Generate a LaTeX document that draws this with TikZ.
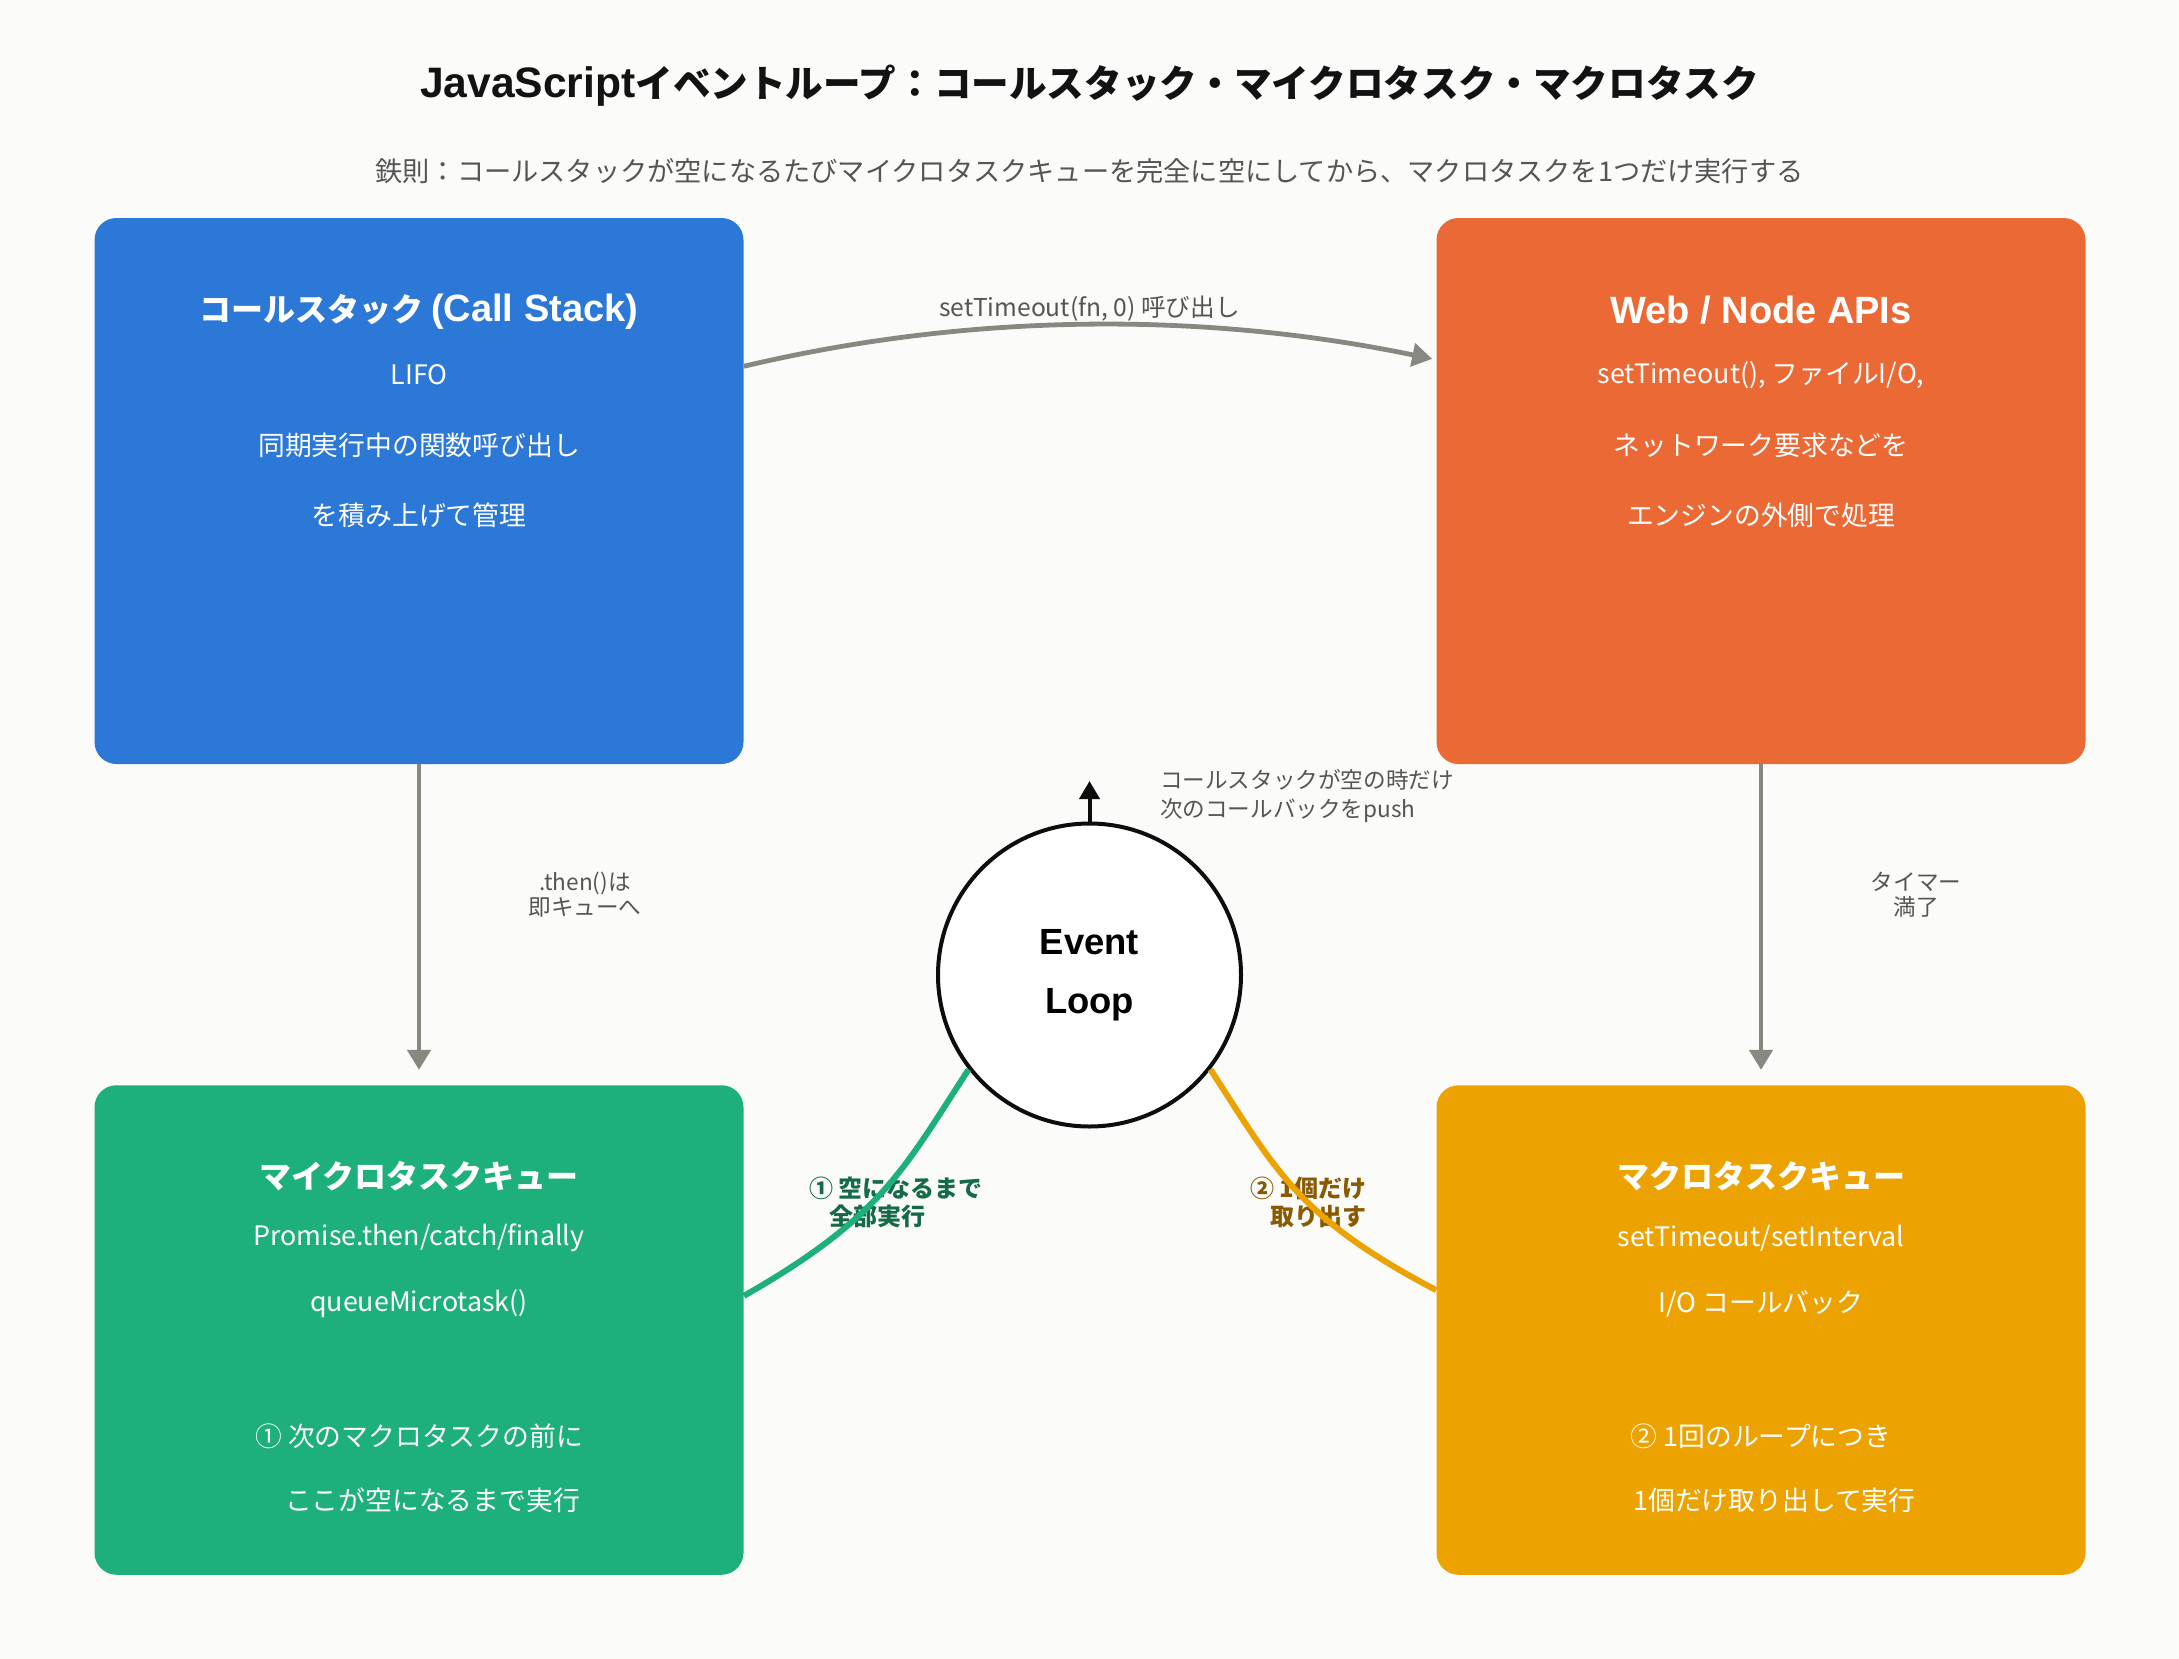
\documentclass[tikz,border=0pt]{standalone}
\usepackage{fontspec}
\setmainfont{Noto Sans CJK JP}
\newfontfamily\headlatin{Liberation Sans}
\usepackage{tikz}
\usetikzlibrary{positioning}
\usetikzlibrary{arrows.meta}

\definecolor{csblue}{HTML}{2B78D6}
\definecolor{apiorange}{HTML}{EB6935}
\definecolor{microgreen}{HTML}{1DB07A}
\definecolor{macroamber}{HTML}{ECA200}
\definecolor{flowgray}{HTML}{888880}
\definecolor{notegray}{HTML}{555555}
\definecolor{bgpaper}{HTML}{FBFBF9}
\definecolor{microtext}{HTML}{156B47}
\definecolor{macrotext}{HTML}{8A5A00}

\newcommand{\titlelatin}[1]{{\headlatin\fontsize{19}{22}\selectfont\bfseries #1}}

\begin{document}
\begin{tikzpicture}[x=0.5pt, y=-0.5pt, on grid,
    box/.style={rounded corners=11pt, inner sep=0pt, minimum width=324.5pt},
    bigbox/.style={box, minimum height=273pt},
    smallbox/.style={box, minimum height=244.75pt},
    boxtitle/.style={text=white, font=\fontsize{16}{19}\selectfont\bfseries},
    boxline/.style={text=white, font=\fontsize{13.4}{16}\selectfont},
    note/.style={text=notegray, font=\fontsize{11.3}{12.5}\selectfont},
    steplbl/.style={font=\fontsize{12}{14}\selectfont\bfseries, align=left, anchor=west},
    flow/.style={-{Triangle[width=11.5pt,length=10pt]}, draw=flowgray, line width=2.4pt},
    curveline/.style={line width=3pt}]
    % canvas %
    \fill[bgpaper] (0,0) rectangle (2179,1659);
    \useasboundingbox (0,0) rectangle (2179,1659);
    \node[font=\fontsize{18.8}{22}\selectfont\bfseries, text=black!93] (ttl) at (1089.5,86)
        {{\headlatin\fontsize{21.3}{22}\selectfont\bfseries JavaScript}イベントループ：コールスタック・マイクロタスク・マクロタスク};
    \node[font=\fontsize{13.6}{16}\selectfont, text=notegray] (sub) at (1089.5,171)
        {鉄則：コールスタックが空になるたびマイクロタスクキューを完全に空にしてから、マクロタスクを1つだけ実行する};
    % boxes %
    \node[bigbox, fill=csblue] (cs) at (419,491) {};
    \node[bigbox, fill=apiorange] (web) at (1761,491) {};
    \node[smallbox, fill=microgreen] (mq) at (419,1330) {};
    \node[smallbox, fill=macroamber] (mac) at (1761,1330) {};
    % call stack text %
    \node[boxtitle] (cs-t) at (419,312) {コールスタック \titlelatin{(Call Stack)}};
    \node[boxline, below=31.5pt of cs-t] (cs-1) {LIFO};
    \node[boxline, below=35pt of cs-1] (cs-2) {同期実行中の関数呼び出し};
    \node[boxline, below=35pt of cs-2] (cs-3) {を積み上げて管理};
    % web api text %
    \node[boxtitle] (web-t) at (1761,310) {\titlelatin{Web / Node APIs}};
    \node[boxline, below=32.5pt of web-t] (web-1) {setTimeout(), ファイルI/O,};
    \node[boxline, below=35pt of web-1] (web-2) {ネットワーク要求などを};
    \node[boxline, below=35pt of web-2] (web-3) {エンジンの外側で処理};
    % microtask text %
    \node[boxtitle] (mq-t) at (419,1176) {マイクロタスクキュー};
    \node[boxline, below=31pt of mq-t] (mq-1) {Promise.then/catch/finally};
    \node[boxline, below=33pt of mq-1] (mq-2) {queueMicrotask()};
    \node[boxline, below=66pt of mq-2] (mq-3) {① 次のマクロタスクの前に};
    \node[boxline, below=32pt of mq-3] (mq-4) {\hspace*{1em}ここが空になるまで実行};
    % macrotask text %
    \node[boxtitle] (mac-t) at (1761,1176) {マクロタスクキュー};
    \node[boxline, below=31pt of mac-t] (mac-1) {setTimeout/setInterval};
    \node[boxline, below=33pt of mac-1] (mac-2) {I/O コールバック};
    \node[boxline, below=66pt of mac-2] (mac-3) {② 1回のループにつき};
    \node[boxline, below=32pt of mac-3] (mac-4) {\hspace*{1em}1個だけ取り出して実行};
    % labels %
    \node[note, font=\fontsize{12.3}{13}\selectfont] (tm-lbl) at (1089.5,309) {setTimeout(fn, 0) 呼び出し};
    \node[note, align=center] (then-lbl) at (585,895) {.then()は\\即キューへ};
    \node[note, align=center] (timer-lbl) at (1916,895) {タイマー\\満了};
    \node[note, align=left, anchor=west, font=\fontsize{11.3}{14.5}\selectfont] (push-lbl) at (1153,796)
        {コールスタックが空の時だけ\\次のコールバックをpush};
    \node[steplbl, text=microtext] (mq-lbl) at (802,1202) {① 空になるまで\\\hspace*{10pt}全部実行};
    \node[steplbl, text=macrotext] (mac-lbl) at (1243,1202) {② 1個だけ\\\hspace*{10pt}取り出す};
    % event loop %
    \node[circle, draw=black!95, line width=2pt, fill=white, minimum size=151.5pt, inner sep=0pt,
          align=center, font=\headlatin\fontsize{18.2}{29.5}\selectfont\bfseries] (loop) at (1089.5,975) {Event\\Loop};
    \coordinate (lp-top) at (1089.5,781);
    % edges %
    \draw[flow, shorten >=2pt] (cs.21.2) .. controls (973,312) and (1206,312) .. (web.158.8);
    \draw[flow, shorten >=7.5pt] (cs) -- (mq);
    \draw[flow, shorten >=7.5pt] (web) -- (mac);
    \draw[curveline, microgreen] (mq.6.7) .. controls (882,1217) and (903,1170) .. (loop.218);
    \draw[curveline, macroamber] (loop.322) .. controls (1276,1170) and (1297,1217) .. (mac.173.3);
    \draw[-{Triangle[width=10pt,length=9pt]}, line width=2pt, black!95] (loop) -- (lp-top);
  \end{tikzpicture}
\end{document}
